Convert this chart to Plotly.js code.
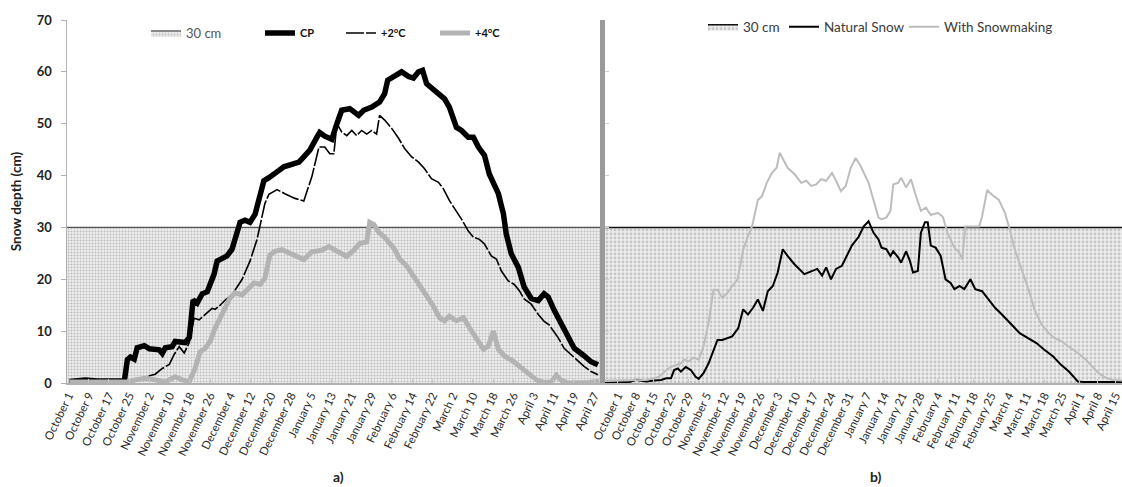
<!DOCTYPE html>
<html>
<head>
<meta charset="utf-8">
<script src="https://cdn.plot.ly/plotly-3.0.1.min.js"></script>
<style>html,body{margin:0;padding:0;background:#fff;}#chart{width:1122px;height:487px;}</style>
</head>
<body>
<div id="chart"></div>
<script>
// ---- tick labels ----
const tickLabelsA = ['October 1','October 9','October 17','October 25','November 2','November 10','November 18','November 26','December 4','December 12','December 20','December 28','January 5','January 13','January 21','January 29','February 6','February 14','February 22','March 2','March 10','March 18','March 26','April 3','April 11','April 19','April 27'];
const tickStepA = 8;
const tickLabelsB = ['October 1','October 8','October 15','October 22','October 29','November 5','November 12','November 19','November 26','December 3','December 10','December 17','December 24','December 31','January 7','January 14','January 21','January 28','February 4','February 11','February 18','February 25','March 4','March 11','March 18','March 25','April 1','April 8','April 15'];
const tickStepB = 7;

// threshold
const thresholdCm = 30;

// ---- panel a (days since October 1) ----
const cpDays = [0.4,6.7,11.4,17.4,22.1,23.3,24.5,26.0,27.2,30.0,32.0,35.9,37.1,38.3,41.0,42.2,45.0,46.2,47.8,49.3,50.9,52.9,54.9,56.0,57.6,58.8,60.8,62.7,64.7,66.7,67.9,69.8,71.8,73.8,75.4,77.3,79.3,81.3,83.3,85.2,87.2,89.2,91.2,93.1,95.5,98.3,99.4,101.4,104.2,106.2,108.1,111.3,114.8,116.8,120.0,123.1,125.1,126.3,128.7,131.8,134.6,136.5,138.5,140.1,141.7,144.4,146.8,148.8,150.7,153.5,155.5,158.2,160.2,162.2,164.6,166.5,170.1,172.1,173.2,175.2,178.0,180.3,183.1,185.9,188.2,189.8,192.2,195.0,197.7,200.1,203.6,206.8,209.5];
const cpDepth = [0.3,0.6,0.4,0.3,0.4,4.5,5.0,4.6,6.8,7.2,6.6,6.4,5.7,6.8,7.0,8.0,8.0,7.8,8.8,16.0,15.4,17.2,17.6,18.9,21.0,23.5,24.0,24.5,25.8,28.8,31.0,31.4,31.0,32.5,35.5,39.0,39.6,40.2,41.0,41.7,42.0,42.2,42.6,43.6,44.9,47.4,48.3,47.6,47.0,50.0,52.6,52.9,51.6,52.6,53.2,54.2,55.8,58.4,59.1,60.0,59.1,58.8,60.0,60.3,57.7,56.7,55.5,54.8,53.2,49.3,48.7,47.4,47.4,45.5,43.9,40.3,36.5,32.6,28.8,24.9,22.3,18.5,16.3,15.9,17.2,16.6,14.0,11.2,8.9,6.7,5.4,4.1,3.5];

const plus2Days = [0.4,20.0,27.0,30.4,34.3,37.1,39.9,41.8,43.8,45.8,47.8,49.7,51.7,53.7,55.6,56.8,58.0,60.0,62.0,64.7,68.7,71.8,74.6,76.6,77.7,79.3,82.5,85.6,89.6,93.1,96.3,99.1,101.4,103.4,105.0,106.2,108.1,110.1,112.1,114.0,116.0,118.0,120.0,121.9,123.1,125.1,127.9,130.6,133.0,135.8,138.5,140.9,143.6,146.4,148.4,150.7,153.5,155.5,158.2,160.2,162.6,164.6,167.3,169.3,171.3,174.0,176.4,178.4,180.3,183.1,185.9,188.2,190.2,193.8,196.1,198.9,201.7,204.0,206.8,209.5];
const plus2Depth = [0.1,0.1,0.5,1.2,1.7,2.8,3.6,5.5,7.0,5.8,7.8,12.5,12.2,13.0,13.8,14.4,14.2,15.0,16.0,17.0,20.0,23.5,27.7,32.0,34.6,36.4,37.3,36.5,35.6,35.1,39.8,45.5,45.5,44.2,44.2,50.0,48.4,47.7,48.7,47.7,48.7,48.0,48.7,48.0,51.6,50.7,49.1,47.2,45.2,43.6,42.6,41.3,39.4,38.7,37.4,35.2,33.2,31.6,29.3,28.1,27.7,26.8,24.5,23.9,21.6,19.7,19.0,17.8,16.2,15.2,13.2,11.9,11.2,8.7,6.7,5.4,4.1,3.2,2.2,1.6];

const plus4Days = [0.4,23.3,26.4,30.4,34.3,38.3,42.2,45.0,47.8,50.1,52.1,54.1,56.0,58.0,60.0,62.0,63.9,65.9,68.7,71.4,73.4,75.8,77.7,79.7,81.7,84.5,87.2,89.6,93.1,96.3,100.2,103.0,105.0,107.3,110.1,112.9,115.2,118.0,119.2,120.8,122.7,125.1,127.1,129.0,131.0,133.8,136.5,138.9,141.7,144.4,146.8,148.8,150.7,153.5,156.3,158.6,161.4,164.2,166.1,168.1,170.1,172.5,176.0,179.2,182.3,185.1,188.2,191.0,193.0,195.0,197.7,201.7,205.6,210.0];
const plus4Depth = [0.2,0.2,0.6,0.9,0.6,0.2,1.2,0.6,0.3,2.8,6.0,6.7,8.0,10.6,12.5,14.5,16.4,17.4,17.0,18.3,19.3,19.0,20.2,24.7,25.4,25.7,25.1,24.4,23.8,25.3,25.6,26.3,25.7,25.0,24.4,25.6,26.9,27.2,31.0,30.6,29.1,28.1,26.8,25.8,23.9,22.6,20.6,18.7,16.8,14.8,12.6,12.0,12.9,12.0,12.6,10.7,8.4,6.5,7.1,10.0,6.5,5.2,4.2,2.9,1.9,0.6,0.1,0.2,1.5,0.5,0.0,0.0,0.1,0.3];

// ---- panel b (days since October 1) ----
const naturalDays = [-5.1,4.7,7.4,11.3,14.4,17.1,19.1,21.0,22.2,23.7,24.9,26.8,28.8,30.7,31.9,33.8,35.8,37.7,39.3,41.2,43.2,45.1,47.5,49.4,51.3,53.3,55.2,57.2,59.1,61.1,63.0,65.0,66.9,69.6,73.5,76.6,78.6,80.5,82.1,84.0,86.0,88.3,90.2,92.2,94.9,96.9,98.8,100.7,102.7,103.9,105.8,107.4,108.5,110.5,111.6,113.6,115.1,116.3,118.2,119.4,121.0,122.1,123.3,125.2,127.2,129.1,131.1,132.6,134.6,136.5,138.9,140.8,143.5,146.2,148.6,151.3,154.0,156.4,158.3,161.8,164.9,168.0,171.5,174.6,177.7,181.2,183.5,198.6];
const naturalDepth = [0.0,0.2,0.6,0.3,0.5,0.6,0.9,0.9,2.5,2.8,2.2,3.1,2.5,1.2,0.8,1.9,3.8,6.4,8.3,8.3,8.7,9.0,10.6,14.2,13.2,14.5,16.1,13.9,17.7,18.7,21.3,25.8,24.5,22.9,21.0,21.6,22.0,20.7,22.3,20.0,22.0,22.6,24.5,26.5,28.2,30.2,31.2,29.0,27.7,26.1,25.8,24.5,25.4,24.2,23.2,25.4,23.5,21.3,21.6,29.0,31.0,31.0,26.5,26.1,24.5,20.0,19.3,18.1,18.7,18.1,20.0,18.1,17.7,16.1,14.5,13.2,11.9,10.6,9.6,8.6,7.7,6.4,5.1,3.5,2.2,0.3,0.2,0.2];

const snowmakingDays = [-5.1,4.7,11.3,16.3,19.1,21.0,22.9,24.9,26.1,28.0,29.9,31.9,33.8,35.8,37.7,39.3,41.2,43.2,45.1,47.1,48.2,49.4,51.3,52.9,54.1,55.2,56.8,58.7,60.7,62.6,63.8,65.0,66.9,69.6,72.3,74.3,76.2,78.2,80.1,82.1,84.4,86.0,87.9,89.8,91.8,93.7,95.7,98.8,101.5,102.7,103.9,105.8,107.4,108.5,110.5,111.6,113.6,115.5,117.5,119.4,121.4,123.3,126.0,128.0,129.9,132.6,134.6,135.7,136.9,138.9,142.4,143.5,145.5,147.4,150.1,152.5,154.4,156.4,159.1,161.8,164.1,166.9,169.6,171.9,174.6,177.7,181.2,184.4,187.1,189.4,192.2,194.9,198.6];
const snowmakingDepth = [0.5,0.5,0.6,1.2,2.5,3.1,3.5,3.8,4.5,4.2,4.9,4.5,7.1,11.6,18.0,18.0,16.4,17.4,18.7,19.9,22.5,25.7,28.3,30.2,32.8,35.3,36.0,38.6,40.5,41.5,44.4,43.2,41.5,40.3,38.6,39.0,38.0,38.3,39.3,39.0,40.5,39.0,37.0,38.0,41.5,43.4,41.8,38.6,34.1,31.9,31.6,31.9,33.2,38.3,38.6,39.6,37.7,39.3,36.0,33.2,33.8,32.4,32.8,32.1,28.9,26.1,25.1,23.8,30.2,30.2,30.2,32.1,37.2,36.3,35.3,32.8,29.6,25.7,21.9,18.0,14.2,11.3,9.7,8.7,8.1,7.1,5.8,4.5,3.2,1.9,1.0,0.6,0.5];

// ---- layout helpers ----
const W = 1122, H = 487;
const M = {l: 67, r: 0, t: 20, b: 104};
const pw = W - M.l - M.r, ph = H - M.t - M.b;
const px2x = p => (p - M.l) / pw;
const py2y = p => 1 - (p - M.t) / ph;
const rangeA = [-0.6, 211.5];
const rangeB = [-5.0, 198.6];
const FONT = 'Lato, "Open Sans", "DejaVu Sans", sans-serif';

const tickValsA = tickLabelsA.map((_, i) => i * tickStepA);
const tickValsB = tickLabelsB.map((_, i) => i * tickStepB);

const traces = [
  {x: rangeA, y: rangeA.map(() => thresholdCm), xaxis: 'x', yaxis: 'y', mode: 'lines', fill: 'tozeroy',
   name: '30 cm', legend: 'legend', line: {color: '#555', width: 1.3},
   fillcolor: '#e6e6e6', fillpattern: {shape: '.', fgcolor: '#bdbdbd', bgcolor: '#eeeeee', size: 3, solidity: 0.35},
   hoverinfo: 'skip'},
  {x: cpDays, y: cpDepth, xaxis: 'x', yaxis: 'y', mode: 'lines', name: 'CP', legend: 'legend2',
   line: {color: '#000', width: 5.5, shape: 'linear'}},
  {x: plus2Days, y: plus2Depth, xaxis: 'x', yaxis: 'y', mode: 'lines', name: '+2°C', legend: 'legend3',
   line: {color: '#000', width: 1.6, dash: '18px,2px'}},
  {x: plus4Days, y: plus4Depth, xaxis: 'x', yaxis: 'y', mode: 'lines', name: '+4°C', legend: 'legend4',
   line: {color: '#b3b3b3', width: 5}},
  {x: rangeB, y: rangeB.map(() => thresholdCm), xaxis: 'x2', yaxis: 'y2', mode: 'lines', fill: 'tozeroy',
   name: '30 cm', legend: 'legend5', line: {color: '#111', width: 1.5},
   fillcolor: '#e6e6e6', fillpattern: {shape: '.', fgcolor: '#c6c6c6', bgcolor: '#eeeeee', size: 4, solidity: 0.4},
   hoverinfo: 'skip'},
  {x: naturalDays, y: naturalDepth, xaxis: 'x2', yaxis: 'y2', mode: 'lines', name: 'Natural Snow', legend: 'legend6',
   line: {color: '#000', width: 2}},
  {x: snowmakingDays, y: snowmakingDepth, xaxis: 'x2', yaxis: 'y2', mode: 'lines', name: 'With Snowmaking', legend: 'legend7',
   line: {color: '#bdbdbd', width: 2}}
];

function leg(pxText, pyCenter, font) {
  return {x: px2x(pxText - 42), xanchor: 'left', y: py2y(pyCenter), yanchor: 'middle',
          orientation: 'h', bgcolor: 'rgba(0,0,0,0)', borderwidth: 0, font: font,
          itemclick: false, itemdoubleclick: false};
}
const legFontA1 = {family: FONT, size: 13, color: '#555'};
const legFontA2 = {family: FONT, size: 11, color: '#111', weight: 'bold'};
const legFontB = {family: FONT, size: 13.5, color: '#3a3a3a'};

const xCommon = {
  tickangle: -64, tickfont: {family: FONT, size: 11.5, color: '#2a2a2a'}, ticklabeloverflow: 'allow',
  showline: true, linecolor: '#b0b0b0', linewidth: 1.5, ticks: 'inside', ticklen: 4, tickcolor: '#c8c8c8',
  showgrid: false, zeroline: false, fixedrange: true, tickmode: 'array'
};

const layout = {
  width: W, height: H, margin: M, paper_bgcolor: '#fff', plot_bgcolor: 'rgba(0,0,0,0)',
  font: {family: FONT},
  showlegend: true,
  xaxis: Object.assign({}, xCommon, {domain: [0, px2x(603)], range: rangeA, tickvals: tickValsA, ticktext: tickLabelsA, anchor: 'y'}),
  xaxis2: Object.assign({}, xCommon, {domain: [px2x(605), 1], range: rangeB, tickvals: tickValsB, ticktext: tickLabelsB, anchor: 'y2'}),
  yaxis: {range: [0, 70], dtick: 10, tick0: 0, showgrid: false, zeroline: false, showline: true, linecolor: '#b0b0b0', linewidth: 1.5,
          ticks: 'outside', ticklen: 5, tickcolor: '#b0b0b0', ticklabelstandoff: 6,
          tickfont: {family: FONT, size: 13, color: '#222', weight: 'bold'},
          title: {text: 'Snow depth (cm)', font: {family: FONT, size: 13.5, color: '#222', weight: 'bold'}, standoff: 12},
          fixedrange: true, anchor: 'x'},
  yaxis2: {range: [0, 70], dtick: 10, showgrid: false, zeroline: false, showline: true, linecolor: '#9a9a9a', linewidth: 5,
           ticks: 'inside', ticklen: 4, tickcolor: '#d0d0d0', showticklabels: false, fixedrange: true, anchor: 'x2'},
  legend: leg(188, 33, legFontA1),
  legend2: leg(302, 33, legFontA2),
  legend3: leg(383, 33, legFontA2),
  legend4: leg(477, 33, legFontA2),
  legend5: leg(745, 27, legFontB),
  legend6: leg(826, 27, legFontB),
  legend7: leg(946, 27, legFontB),
  annotations: [
    {text: '<b>a)</b>', xref: 'paper', yref: 'paper', x: px2x(338), y: py2y(476), xanchor: 'center', yanchor: 'middle', showarrow: false, font: {family: FONT, size: 14, color: '#222'}},
    {text: '<b>b)</b>', xref: 'paper', yref: 'paper', x: px2x(876), y: py2y(476), xanchor: 'center', yanchor: 'middle', showarrow: false, font: {family: FONT, size: 14, color: '#222'}}
  ]
};

Plotly.newPlot('chart', traces, layout, {displayModeBar: false, staticPlot: true});
</script>
</body>
</html>
